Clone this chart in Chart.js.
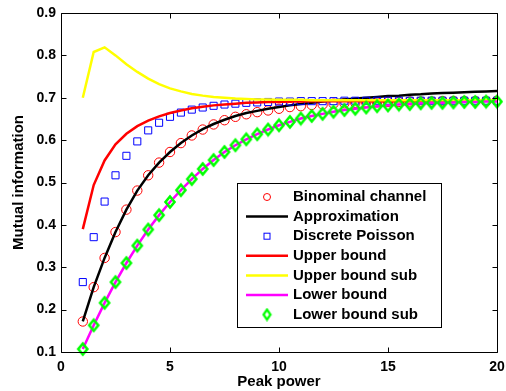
<!DOCTYPE html>
<html>
<head>
<meta charset="utf-8">
<title>Mutual information vs peak power</title>
<script src="https://cdn.jsdelivr.net/npm/chart.js@4.4.1/dist/chart.umd.min.js"></script>
<style>
  html, body { margin: 0; padding: 0; background: #fff; }
  #wrap { width: 506px; height: 391px; }
</style>
</head>
<body>
<div id="wrap"><canvas id="myChart" width="506" height="391"></canvas></div>
<script>
// peak power grid (step 0.5)
const peakPower = [1, 1.5, 2, 2.5, 3, 3.5, 4, 4.5, 5, 5.5, 6, 6.5, 7, 7.5, 8, 8.5, 9, 9.5, 10,
  10.5, 11, 11.5, 12, 12.5, 13, 13.5, 14, 14.5, 15, 15.5, 16, 16.5, 17, 17.5, 18, 18.5, 19, 19.5, 20];

const binomial = [0.172, 0.253, 0.322, 0.383, 0.436, 0.481, 0.517, 0.547, 0.572, 0.593, 0.611, 0.625, 0.637,
  0.647, 0.655, 0.661, 0.666, 0.670, 0.674, 0.678, 0.680, 0.683, 0.684, 0.686, 0.687, 0.688, 0.689, 0.689,
  0.690, 0.690, 0.691, 0.691, 0.691, 0.692, 0.692, 0.692, 0.692, 0.692, 0.693];

const approximation = [0.172, 0.253, 0.322, 0.383, 0.436, 0.481, 0.517, 0.547, 0.572, 0.593, 0.611, 0.626, 0.638,
  0.648, 0.657, 0.664, 0.669, 0.674, 0.678, 0.682, 0.685, 0.688, 0.691, 0.694, 0.696, 0.698, 0.700, 0.702,
  0.704, 0.705, 0.707, 0.708, 0.710, 0.711, 0.712, 0.713, 0.714, 0.715, 0.716];

const discretePoisson = [0.265, 0.371, 0.455, 0.517, 0.563, 0.597, 0.623, 0.641, 0.655, 0.665, 0.672, 0.677, 0.681,
  0.684, 0.686, 0.688, 0.689, 0.690, 0.691, 0.691, 0.692, 0.692, 0.692, 0.692, 0.693, 0.693, 0.693, 0.693,
  0.693, 0.693, 0.693, 0.693, 0.693, 0.693, 0.693, 0.693, 0.693, 0.693, 0.693];

const upperBound = [0.390, 0.494, 0.552, 0.590, 0.615, 0.633, 0.646, 0.656, 0.664, 0.670, 0.675, 0.679, 0.682,
  0.684, 0.686, 0.688, 0.689, 0.690, 0.690, 0.691, 0.691, 0.692, 0.692, 0.692, 0.692, 0.692, 0.692, 0.692,
  0.692, 0.692, 0.692, 0.692, 0.693, 0.693, 0.693, 0.693, 0.693, 0.693, 0.693];

const upperBoundSub = [0.700, 0.808, 0.819, 0.800, 0.779, 0.761, 0.745, 0.732, 0.722, 0.715, 0.709, 0.705, 0.702,
  0.700, 0.698, 0.697, 0.696, 0.696, 0.695, 0.695, 0.695, 0.694, 0.694, 0.694, 0.694, 0.694, 0.694, 0.694,
  0.694, 0.694, 0.694, 0.694, 0.694, 0.694, 0.694, 0.694, 0.694, 0.694, 0.694];

const lowerBound = [0.107, 0.163, 0.216, 0.265, 0.310, 0.351, 0.389, 0.423, 0.454, 0.482, 0.508, 0.532, 0.553,
  0.572, 0.588, 0.602, 0.614, 0.625, 0.635, 0.643, 0.651, 0.657, 0.662, 0.667, 0.671, 0.674, 0.677, 0.680,
  0.682, 0.684, 0.685, 0.687, 0.688, 0.688, 0.689, 0.690, 0.690, 0.691, 0.691];

const lowerBoundSub = [0.107, 0.163, 0.216, 0.265, 0.310, 0.351, 0.389, 0.423, 0.454, 0.482, 0.508, 0.532, 0.553,
  0.572, 0.588, 0.602, 0.614, 0.625, 0.635, 0.643, 0.651, 0.657, 0.662, 0.667, 0.671, 0.674, 0.677, 0.680,
  0.682, 0.684, 0.685, 0.687, 0.688, 0.688, 0.689, 0.690, 0.690, 0.691, 0.691];

const xTicks = [0, 5, 10, 15, 20];
const yTicks = [0.1, 0.2, 0.3, 0.4, 0.5, 0.6, 0.7, 0.8, 0.9];

const FONT = "'Liberation Sans', Arial, Helvetica, sans-serif";
Chart.defaults.font.family = FONT;
Chart.defaults.font.weight = 'bold';
Chart.defaults.color = '#000';

const pts = ys => peakPower.map((x, i) => ({ x: x, y: ys[i] }));

// green diamond marker, a bit taller than wide
function diamond(w, h, color, lw) {
  const c = document.createElement('canvas');
  c.width = w + lw * 2;
  c.height = h + lw * 2;
  const g = c.getContext('2d');
  const cx = c.width / 2, cy = c.height / 2;
  g.strokeStyle = color;
  g.lineWidth = lw;
  g.beginPath();
  g.moveTo(cx, cy - h / 2);
  g.lineTo(cx + w / 2, cy);
  g.lineTo(cx, cy + h / 2);
  g.lineTo(cx - w / 2, cy);
  g.closePath();
  g.stroke();
  return c;
}
const diamondMark = diamond(9, 11, '#00ff00', 2.6);
const diamondSmall = diamond(7, 10, '#00ff00', 2.2);

// inward ticks on all four sides plus the box
const framePlugin = {
  id: 'frame',
  afterDatasetsDraw(chart) {
    const { ctx, chartArea: a, scales } = chart;
    const tl = 5;
    const L = Math.round(a.left) + 0.5, R = Math.round(a.right) + 0.5;
    const T = Math.round(a.top) + 0.5, B = Math.round(a.bottom) + 0.5;
    ctx.save();
    ctx.strokeStyle = '#000';
    ctx.lineWidth = 1;
    ctx.beginPath();
    ctx.rect(L, T, R - L, B - T);
    xTicks.forEach(v => {
      const px = Math.round(scales.x.getPixelForValue(v)) + 0.5;
      ctx.moveTo(px, B); ctx.lineTo(px, B - tl);
      ctx.moveTo(px, T); ctx.lineTo(px, T + tl);
    });
    yTicks.forEach(v => {
      const py = Math.round(scales.y.getPixelForValue(v)) + 0.5;
      ctx.moveTo(L, py); ctx.lineTo(L + tl, py);
      ctx.moveTo(R, py); ctx.lineTo(R - tl, py);
    });
    ctx.stroke();
    ctx.restore();
  }
};

// legend box inside the plot, lower right
const legendPlugin = {
  id: 'boxLegend',
  afterDraw(chart) {
    const { ctx } = chart;
    const box = { left: 237, top: 183, right: 441, bottom: 327 };
    const y0 = 197, step = 19.6, mx = 267, lx0 = 246, lx1 = 288, tx = 293;
    ctx.save();
    ctx.fillStyle = '#fff';
    ctx.fillRect(box.left, box.top, box.right - box.left, box.bottom - box.top);
    ctx.strokeStyle = '#000';
    ctx.lineWidth = 1;
    ctx.strokeRect(box.left + 0.5, box.top + 0.5, box.right - box.left, box.bottom - box.top);
    chart.data.datasets.forEach((ds, i) => {
      const y = y0 + i * step;
      if (ds.showLine === false) {
        ctx.strokeStyle = ds.borderColor;
        ctx.lineWidth = 1;
        ctx.beginPath();
        if (ds.pointStyle === 'circle') {
          ctx.arc(mx, y, 3.5, 0, Math.PI * 2);
          ctx.stroke();
        } else if (ds.pointStyle === 'rect') {
          ctx.strokeRect(mx - 3, y - 3, 6, 6);
        } else {
          ctx.drawImage(diamondSmall, mx - diamondSmall.width / 2, y - diamondSmall.height / 2);
        }
      } else {
        ctx.strokeStyle = ds.borderColor;
        ctx.lineWidth = 2.5;
        ctx.beginPath();
        ctx.moveTo(lx0, y);
        ctx.lineTo(lx1, y);
        ctx.stroke();
      }
      ctx.fillStyle = '#000';
      ctx.font = 'bold 15px ' + FONT;
      ctx.textBaseline = 'middle';
      ctx.textAlign = 'left';
      ctx.fillText(ds.label, tx, y);
    });
    ctx.restore();
  }
};

new Chart(document.getElementById('myChart'), {
  type: 'line',
  data: {
    datasets: [
      { label: 'Binominal channel', data: pts(binomial), showLine: false, pointStyle: 'circle',
        pointRadius: 4.7, pointBorderWidth: 1, borderColor: '#ff0000', pointBackgroundColor: 'rgba(0,0,0,0)', order: 7 },
      { label: 'Approximation', data: pts(approximation), borderColor: '#000000', borderWidth: 2.5,
        pointRadius: 0, order: 6 },
      { label: 'Discrete Poisson', data: pts(discretePoisson), showLine: false, pointStyle: 'rect',
        pointRadius: 5, pointBorderWidth: 1, borderColor: '#0000ff', pointBackgroundColor: 'rgba(0,0,0,0)', order: 5 },
      { label: 'Upper bound', data: pts(upperBound), borderColor: '#ff0000', borderWidth: 2.5,
        pointRadius: 0, order: 4 },
      { label: 'Upper bound sub', data: pts(upperBoundSub), borderColor: '#ffff00', borderWidth: 2.5,
        pointRadius: 0, order: 3 },
      { label: 'Lower bound', data: pts(lowerBound), borderColor: '#ff00ff', borderWidth: 2.5,
        pointRadius: 0, order: 2 },
      { label: 'Lower bound sub', data: pts(lowerBoundSub), showLine: false, pointStyle: diamondMark,
        pointRadius: 5, borderColor: '#00ff00', order: 1, clip: false }
    ]
  },
  options: {
    responsive: false,
    animation: false,
    layout: { padding: { top: 13, right: 9, left: 0, bottom: 0 } },
    plugins: { legend: { display: false }, tooltip: { enabled: false } },
    elements: { line: { tension: 0, fill: false } },
    scales: {
      x: {
        type: 'linear', min: 0, max: 20,
        grid: { display: false, drawTicks: false },
        border: { display: false },
        afterBuildTicks: s => { s.ticks = xTicks.map(v => ({ value: v })); },
        // let the end labels hang past the plot box
        afterFit: s => { s.height = 39; s.paddingLeft = 0; s.paddingRight = 0; },
        ticks: { font: { size: 14, weight: 'bold' }, padding: 7, maxRotation: 0, callback: v => String(v) },
        title: { display: true, text: 'Peak power', font: { size: 15, weight: 'bold' }, padding: { top: 0, bottom: 0 } }
      },
      y: {
        type: 'linear', min: 0.1, max: 0.9,
        grid: { display: false, drawTicks: false },
        border: { display: false },
        afterBuildTicks: s => { s.ticks = yTicks.map(v => ({ value: v })); },
        afterFit: s => { s.width = 61; s.paddingTop = 0; s.paddingBottom = 0; },
        ticks: { font: { size: 14, weight: 'bold' }, padding: 5, callback: v => Number(v).toFixed(1) },
        title: { display: true, text: 'Mutual information', font: { size: 15, weight: 'bold' }, padding: { top: 10, bottom: 0 } }
      }
    }
  },
  plugins: [framePlugin, legendPlugin]
});
</script>
</body>
</html>
